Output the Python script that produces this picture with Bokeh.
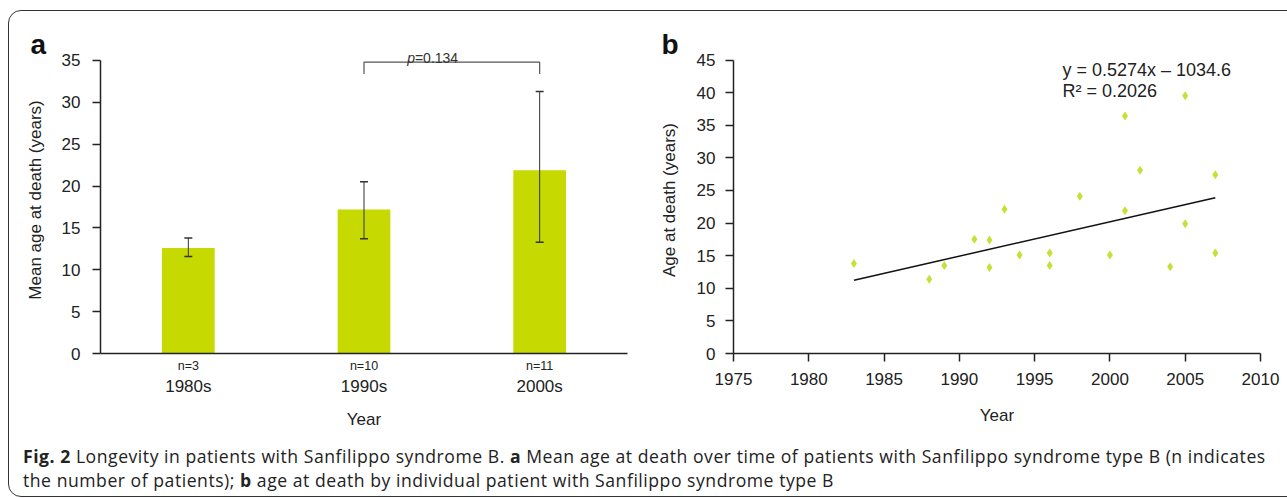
from bokeh.plotting import figure
from bokeh.models import (Range1d, FactorRange, ColumnDataSource, Whisker, CategoricalAxis,
                          SingleIntervalTicker, Div, TeeHead, Title)
from bokeh.layouts import row, column
from bokeh.core.properties import value
from bokeh.embed import file_html
from bokeh.resources import INLINE

# ---------------- data: panel a ----------------
decades = ["1980s", "1990s", "2000s"]
n_patients = [3, 10, 11]
mean_age = [12.6, 17.2, 21.9]
err_low = [1.0, 3.5, 8.6]
err_high = [1.2, 3.3, 9.4]
p_label = ["p", "=0.134"]

# ---------------- data: panel b ----------------
death_year = [1983, 1988, 1989, 1991, 1992, 1992, 1993, 1994, 1996, 1996,
              1998, 2000, 2001, 2001, 2002, 2004, 2005, 2005, 2007, 2007]
age_at_death = [13.8, 11.4, 13.5, 17.5, 17.4, 13.2, 22.1, 15.1, 15.4, 13.5,
                24.1, 15.1, 36.4, 21.9, 28.1, 13.3, 39.5, 19.9, 27.4, 15.4]
slope = 0.5274
intercept = -1034.6
eq_lines = ["y = 0.5274x \u2013 1034.6", "R\u00b2 = 0.2026"]

# ---------------- caption ----------------
caption_line1 = [("Fig. 2", True), (" Longevity in patients with Sanfilippo syndrome B. ", False),
                 ("a", True), (" Mean age at death over time of patients with Sanfilippo "
                               "syndrome type B (n indicates", False)]
caption_line2 = [("the number of patients); ", False), ("b", True),
                 (" age at death by individual patient with Sanfilippo syndrome type B", False)]

# ---------------- styles ----------------
FNAME = "Liberation Sans"
FONT = value(FNAME)
TXT = "#222222"
BAR = "#c6d900"
PT = "#c8df35"
LAB = "17px"


def style_axis(ax, tick_out=8):
    ax.axis_line_color = TXT
    ax.axis_line_width = 1.5
    ax.major_tick_line_color = TXT
    ax.major_tick_line_width = 1.5
    ax.major_tick_out = tick_out
    ax.major_tick_in = 0
    ax.minor_tick_line_color = None
    ax.major_label_text_font = FNAME
    ax.major_label_text_font_size = LAB
    ax.major_label_text_color = TXT
    ax.axis_label_text_font = FNAME
    ax.axis_label_text_font_size = LAB
    ax.axis_label_text_font_style = "normal"
    ax.axis_label_text_color = TXT


def panel_title(p, letter, offset, standoff):
    t = Title(text=letter, align="left", offset=offset, standoff=standoff,
              text_font=FNAME, text_font_size="28px", text_font_style="bold",
              text_color="#111111")
    p.add_layout(t, "above")


# ---------------- panel a ----------------
upper = [m + e for m, e in zip(mean_age, err_high)]
lower = [m - e for m, e in zip(mean_age, err_low)]
src_a = ColumnDataSource(dict(decade=decades, mean=mean_age, upper=upper, lower=lower))

pa = figure(width=638, height=438, x_range=FactorRange(*decades, range_padding=0),
            y_range=Range1d(0, 36.67), output_backend="svg", toolbar_location=None,
            x_axis_location=None, min_border_left=100, min_border_right=11,
            min_border_top=46, min_border_bottom=85)
pa.extra_x_ranges = {"n": FactorRange(*[f"n={n}" for n in n_patients], range_padding=0)}
pa.outline_line_color = None
pa.xgrid.visible = False
pa.ygrid.visible = False

pa.vbar(x="decade", top="mean", width=0.30, source=src_a, fill_color=BAR, line_color=None)
pa.add_layout(Whisker(base="decade", upper="upper", lower="lower", source=src_a, level="overlay",
                      line_color="#333333", line_width=1,
                      upper_head=TeeHead(size=8, line_color="#333333", line_width=1.5),
                      lower_head=TeeHead(size=8, line_color="#333333", line_width=1.5)))

# significance bracket between 1990s and 2000s
br_top, br_bot = 34.8, 33.4
pa.line(x=[decades[1], decades[1], decades[2], decades[2]], y=[br_bot, br_top, br_top, br_bot],
        line_color="#555555", line_width=1.2)
pa.text(x=[1.79], y=[35.3], text=[p_label[0]], text_align="right", text_font=FONT,
        text_font_size="14px", text_font_style="italic", text_color="#333333",
        text_baseline="alphabetic")
pa.text(x=[1.79], y=[35.3], text=[p_label[1]], text_align="left", text_font=FONT,
        text_font_size="14px", text_color="#333333", text_baseline="alphabetic")

ax_n = CategoricalAxis(x_range_name="n")
style_axis(ax_n, tick_out=0)
ax_n.major_tick_line_color = None
ax_n.major_label_text_font_size = "12.5px"
ax_n.major_label_standoff = 5
pa.add_layout(ax_n, "below")

ax_dec = CategoricalAxis(axis_label="Year")
style_axis(ax_dec, tick_out=0)
ax_dec.axis_line_color = None
ax_dec.major_tick_line_color = None
ax_dec.major_label_standoff = 1
ax_dec.axis_label_standoff = 11
pa.add_layout(ax_dec, "below")

style_axis(pa.yaxis[0])
pa.yaxis[0].ticker = SingleIntervalTicker(interval=5, num_minor_ticks=0)
pa.yaxis[0].bounds = (0, 35)
pa.yaxis[0].axis_label = "Mean age at death (years)"
pa.yaxis[0].major_label_standoff = 12
pa.yaxis[0].axis_label_standoff = 14

panel_title(pa, "a", -70, -26)

# ---------------- panel b ----------------
pb = figure(width=649, height=438, x_range=Range1d(1975, 2010), y_range=Range1d(0, 47.07),
            output_backend="svg", toolbar_location=None, min_border_left=95,
            min_border_right=27, min_border_top=46, min_border_bottom=85)
pb.outline_line_color = None
pb.xgrid.visible = False
pb.ygrid.visible = False

fit_x = [min(death_year), max(death_year)]
fit_y = [slope * x + intercept for x in fit_x]
pb.line(x=fit_x, y=fit_y, line_color="#111111", line_width=1.5)
pb.scatter(x=death_year, y=age_at_death, marker="diamond", size=9, fill_color=PT, line_color=None)

pb.text(x=[1996.85, 1996.85], y=[43.5, 40.2], text=eq_lines, text_font=FONT,
        text_font_size="18px", text_color=TXT, text_baseline="alphabetic", text_align="left")

for ax in (pb.xaxis[0], pb.yaxis[0]):
    style_axis(ax)
    ax.ticker = SingleIntervalTicker(interval=5, num_minor_ticks=0)
pb.yaxis[0].bounds = (0, 45)
pb.xaxis[0].axis_label = "Year"
pb.xaxis[0].major_label_standoff = 11
pb.xaxis[0].axis_label_standoff = 18
pb.yaxis[0].axis_label = "Age at death (years)"
pb.yaxis[0].major_label_standoff = 10
pb.yaxis[0].axis_label_standoff = 15

panel_title(pb, "b", -72, -26)


# ---------------- caption (with the figure frame) ----------------
def runs_html(runs):
    out = []
    for txt, bold in runs:
        weight = "700" if bold else "400"
        out.append(f"<span style=\"white-space:pre;font-weight:{weight}\">{txt}</span>")
    return "".join(out)


cap_html = (
    "<div style=\"position:fixed;left:8px;top:10px;width:1320px;height:487px;box-sizing:border-box;"
    "border:1.5px solid #333;border-radius:13px;pointer-events:none\"></div>"
    "<div style=\"font-family:'Open Sans';font-size:17.6px;line-height:24px;letter-spacing:0.53px;"
    "color:#222;white-space:nowrap;padding:1px 0 0 18px\">"
    f"<div style=\"height:24px\">{runs_html(caption_line1)}</div>"
    f"<div style=\"height:24px\">{runs_html(caption_line2)}</div>"
    "</div>"
)
cap = Div(text=cap_html, width=1287, height=60)

layout = column(row(pa, pb), cap)

open("out.html", "w").write(file_html(layout, INLINE))
